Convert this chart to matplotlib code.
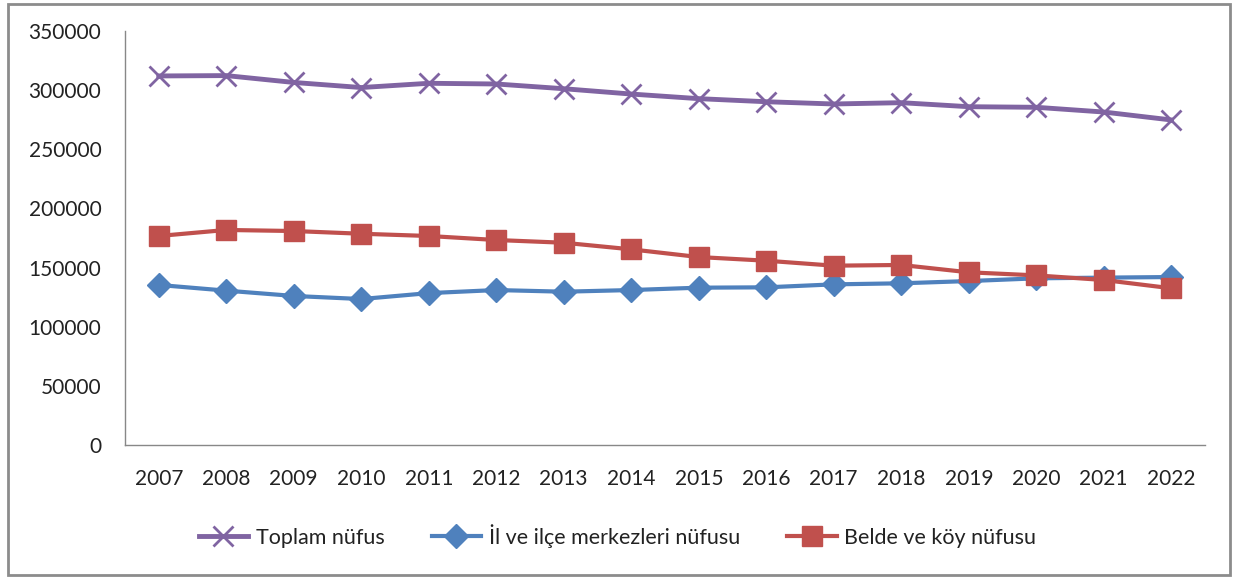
import matplotlib
matplotlib.use("Agg")
import matplotlib.pyplot as plt
from matplotlib.patches import Rectangle

years = ["2007", "2008", "2009", "2010", "2011", "2012", "2013", "2014",
         "2015", "2016", "2017", "2018", "2019", "2020", "2021", "2022"]
toplam = [312000, 312300, 306500, 302200, 305800, 305200, 301200, 296700,
          292800, 290200, 288300, 289400, 286000, 285500, 281500, 274800]
il_ilce = [135300, 130500, 126000, 123400, 128400, 131000, 129600, 131000,
           133000, 133300, 135800, 136700, 138600, 140900, 141500, 142000]
belde_koy = [176700, 181800, 180900, 178600, 176700, 173300, 171000, 165400,
             158900, 155800, 151600, 152200, 146000, 143400, 139500, 132500]

series_names = ["Toplam nüfus", "İl ve ilçe merkezleri nüfusu", "Belde ve köy nüfusu"]

plt.rcParams['font.family'] = ['Lato', 'DejaVu Sans']

fig = plt.figure(figsize=(12.35, 5.79), dpi=100)
ax = fig.add_axes([125/1235, 1 - 445/579, 1080/1235, 414/579])

x = list(range(len(years)))
purple = "#8064A2"
blue = "#4F81BD"
red = "#C0504D"

ax.plot(x, toplam, color=purple, lw=3.5, marker='x', ms=14, mew=2.0,
        label=series_names[0], zorder=3)
ax.plot(x, il_ilce, color=blue, lw=3.0, marker='D', ms=12, mec=blue,
        label=series_names[1], zorder=3)
ax.plot(x, belde_koy, color=red, lw=3.0, marker='s', ms=14, mec=red,
        label=series_names[2], zorder=4)

ax.set_xlim(-0.5, len(years) - 0.5)
ax.set_ylim(0, 350000)
ax.set_yticks(range(0, 350001, 50000))
ax.set_xticks(x)
ax.set_xticklabels(years)

for s in ['top', 'right']:
    ax.spines[s].set_visible(False)
for s in ['left', 'bottom']:
    ax.spines[s].set_color('#888888')
    ax.spines[s].set_linewidth(1.0)

ax.tick_params(axis='both', length=0, labelsize=15, colors='#222222')
ax.tick_params(axis='y', pad=17)
ax.tick_params(axis='x', pad=17)

fig.legend(loc='center', bbox_to_anchor=(0.5, 1 - 536/579), ncol=3, frameon=False,
           fontsize=15.5, handlelength=2.3, columnspacing=2.2, handletextpad=0.35,
           labelcolor='#222222')

fig.patches.append(Rectangle((8/1235, 4/579), 1222/1235, 571/579, transform=fig.transFigure,
                             fill=False, edgecolor='#8c8c8c', linewidth=2.0))

fig.savefig("out.png", dpi=100)
